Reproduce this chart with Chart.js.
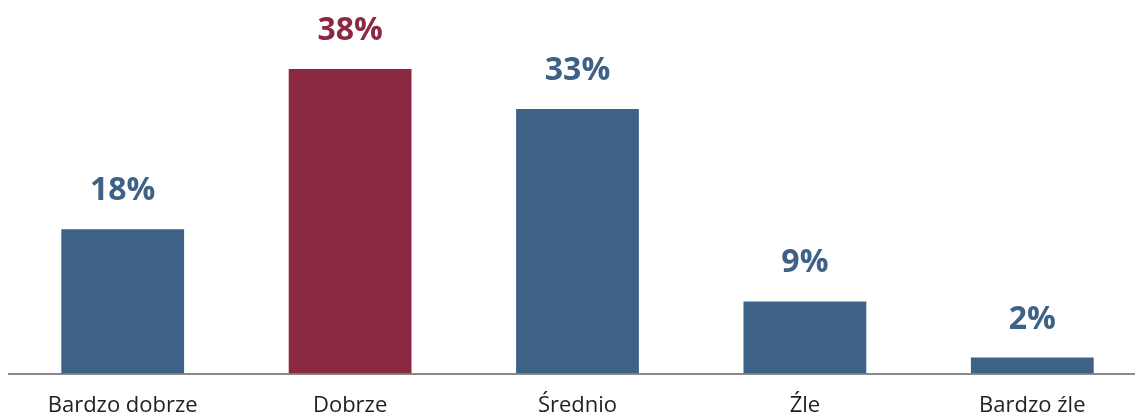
<!DOCTYPE html>
<html>
<head>
<meta charset="utf-8">
<script src="https://cdn.jsdelivr.net/npm/chart.js@4/dist/chart.umd.min.js"></script>
<style>
  html, body { margin:0; padding:0; background:#fff; overflow:hidden; }
  #wrap { width:1146px; height:438px; position:relative; }
</style>
</head>
<body>
<div id="wrap"><canvas id="c"></canvas></div>
<script>
// dane
const categories = ['Bardzo dobrze', 'Dobrze', 'Średnio', 'Źle', 'Bardzo źle'];
const values = [18, 38, 33, 9, 2];
const barColors = ['#3d6285', '#8b2842', '#3d6285', '#3d6285', '#3d6285'];

// etykiety wartości nad słupkami
const valueLabels = {
  id: 'valueLabels',
  afterDatasetsDraw(chart){
    const ctx = chart.ctx;
    const meta = chart.getDatasetMeta(0);
    ctx.save();
    ctx.font = 'bold 32px "Open Sans", sans-serif';
    ctx.textAlign = 'center';
    ctx.textBaseline = 'alphabetic';
    meta.data.forEach((bar, i) => {
      ctx.fillStyle = barColors[i];
      ctx.fillText(values[i] + '%', bar.x, bar.y - 29);
    });
    ctx.restore();
  }
};

new Chart(document.getElementById('c'), {
  type: 'bar',
  data: {
    labels: categories,
    datasets: [{ data: values, backgroundColor: barColors, barPercentage: 0.54, categoryPercentage: 1 }]
  },
  options: {
    responsive: true, maintainAspectRatio: false, animation: false,
    layout: { padding: { left: 9, right: 0, top: 0, bottom: 0 } },
    plugins: { legend: { display: false }, tooltip: { enabled: false } },
    scales: {
      x: {
        grid: { display: false, drawTicks: false },
        border: { display: true, color: '#8a8a8a', width: 2 },
        ticks: { color: '#222', font: { size: 22, family: '"Open Sans", sans-serif' }, padding: 19, maxRotation: 0 }
      },
      y: { display: false, min: 0, max: 46.6 }
    }
  },
  plugins: [valueLabels]
});
</script>
</body>
</html>
